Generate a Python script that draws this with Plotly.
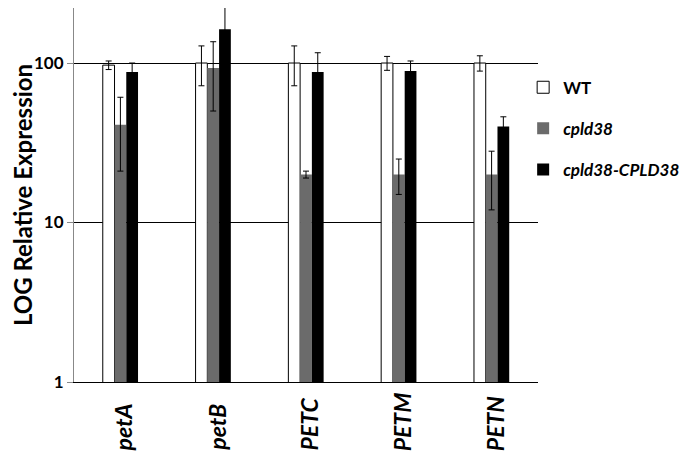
import plotly.graph_objects as go

genes = ['petA', 'petB', 'PETC', 'PETM', 'PETN']

wt = [97, 100, 100, 100, 100]
wt_err = [6, 28, 28, 10, 11]

cpld38 = [41, 93, 20, 20, 20]
cpld38_err = [20, 43, 1, 5, 8]

rescue = [88, 163, 88, 89, 40]
rescue_err = [12, 71, 28, 14, 6]

FONT = 'Lato'

def err(vals):
    return dict(type='data', array=vals, visible=True, color='black', thickness=1, width=3)

fig = go.Figure()
fig.add_trace(go.Bar(x=genes, y=wt, name='<b>WT</b>', error_y=err(wt_err),
                     marker=dict(color='white', line=dict(color='black', width=1)),
                     legendgroup='a'))
fig.add_trace(go.Bar(x=genes, y=cpld38, name='<b><i>cpld38</i></b>', error_y=err(cpld38_err),
                     marker=dict(color='#6b6b6b', line=dict(width=0)),
                     legendgroup='b'))
fig.add_trace(go.Bar(x=genes, y=rescue, name='<b><i>cpld38-CPLD38</i></b>', error_y=err(rescue_err),
                     marker=dict(color='black', line=dict(width=0)),
                     legendgroup='c'))

# category labels read bottom-to-top and sit on a common baseline, like Excel does
for g in genes:
    fig.add_annotation(x=g, y=-0.19, xref='x', yref='paper', text='<b><i>%s</i></b>' % g,
                       textangle=-90, showarrow=False, xanchor='center', yanchor='bottom',
                       xshift=3, font=dict(size=23, family=FONT))

# page body adds an 8px offset, margins compensate for it
fig.update_layout(
    width=693, height=456,
    margin=dict(l=66, r=163, t=0, b=82, autoexpand=False),
    paper_bgcolor='white', plot_bgcolor='white',
    barmode='group', bargap=0.62, bargroupgap=0,
    font=dict(family=FONT, color='black'),
    legend=dict(x=0.968, y=0.835, xanchor='left', yanchor='top',
                font=dict(size=17, family=FONT), tracegroupgap=16,
                itemwidth=30),
    xaxis=dict(showticklabels=False,
               showline=True, linecolor='black', linewidth=1, ticks='',
               automargin=False),
    yaxis=dict(type='log', range=[0, 2.345], tickvals=[1, 10, 100],
               ticktext=['<b>1</b>', '<b>10</b>', '<b>100</b>'],
               tickfont=dict(size=17, family=FONT),
               showgrid=True, gridcolor='black', gridwidth=1,
               showline=True, linecolor='#888888', linewidth=1,
               ticks='outside', ticklen=6, tickcolor='#888888',
               zeroline=False, automargin=False,
               title=dict(text='<b>LOG Relative Expression</b>', font=dict(size=24, family=FONT), standoff=2)),
)

fig.write_html('out.html')
